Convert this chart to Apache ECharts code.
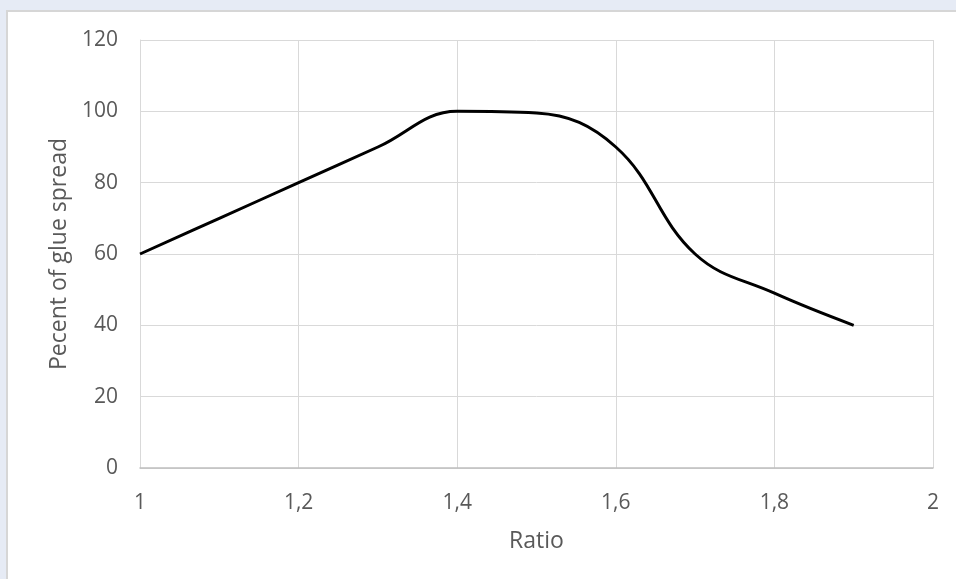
<!DOCTYPE html>
<html>
<head>
<meta charset="utf-8">
<script src="https://cdn.jsdelivr.net/npm/echarts@6/dist/echarts.min.js"></script>
<style>
  html, body { margin: 0; padding: 0; background: #e6ebf5; width: 956px; height: 579px; overflow: hidden; }
  #panel { position: absolute; left: 6px; top: 10px; width: 960px; height: 580px; background: #ffffff; border-left: 2px solid #d6d6d6; border-top: 2px solid #d6d6d6; box-sizing: border-box; }
  #chart { position: absolute; left: 0; top: 0; width: 956px; height: 579px; }
</style>
</head>
<body>
<div id="panel"></div>
<div id="chart"></div>
<script>
const ratios = [1, 1.1, 1.2, 1.3, 1.4, 1.5, 1.6, 1.7, 1.8, 1.9];
const glueSpread = [60, 70, 80, 90, 100, 99.5, 90, 60, 49, 40];
const xTicks = [1, 1.2, 1.4, 1.6, 1.8, 2];
const yTicks = [0, 20, 40, 60, 80, 100, 120];

const fontFam = '"Open Sans", "Noto Sans", sans-serif';
const chart = echarts.init(document.getElementById('chart'), null, { renderer: 'canvas' });
chart.setOption({
  backgroundColor: 'transparent',
  animation: false,
  grid: { left: 140, right: 23, top: 40, bottom: 111, containLabel: false },
  xAxis: {
    type: 'value',
    min: xTicks[0], max: xTicks[xTicks.length - 1], interval: 0.2,
    name: 'Ratio',
    nameLocation: 'middle',
    nameGap: 62,
    nameTextStyle: { color: '#595959', fontSize: 23, fontFamily: fontFam },
    axisLine: { show: true, lineStyle: { color: '#bfbfbf', width: 1.5 } },
    axisTick: { show: false },
    splitLine: { show: true, lineStyle: { color: '#d9d9d9', width: 1 } },
    axisLabel: {
      color: '#595959', fontSize: 21, fontFamily: fontFam, margin: 25,
      formatter: v => String(Math.round(v * 10) / 10).replace('.', ',')
    }
  },
  yAxis: {
    type: 'value',
    min: yTicks[0], max: yTicks[yTicks.length - 1], interval: 20,
    name: 'Pecent of glue spread',
    nameLocation: 'middle',
    nameGap: 68,
    nameRotate: 90,
    nameTextStyle: { color: '#595959', fontSize: 23, fontFamily: fontFam },
    axisLine: { show: true, lineStyle: { color: '#d9d9d9', width: 1 } },
    axisTick: { show: false },
    splitLine: { show: true, lineStyle: { color: '#d9d9d9', width: 1 } },
    axisLabel: { color: '#595959', fontSize: 21, fontFamily: fontFam, margin: 22 }
  },
  series: [{
    type: 'line',
    data: ratios.map((r, i) => [r, glueSpread[i]]),
    smooth: 0.4,
    showSymbol: false,
    lineStyle: { color: '#000000', width: 3 },
    itemStyle: { color: '#000000' }
  }]
});
</script>
</body>
</html>
